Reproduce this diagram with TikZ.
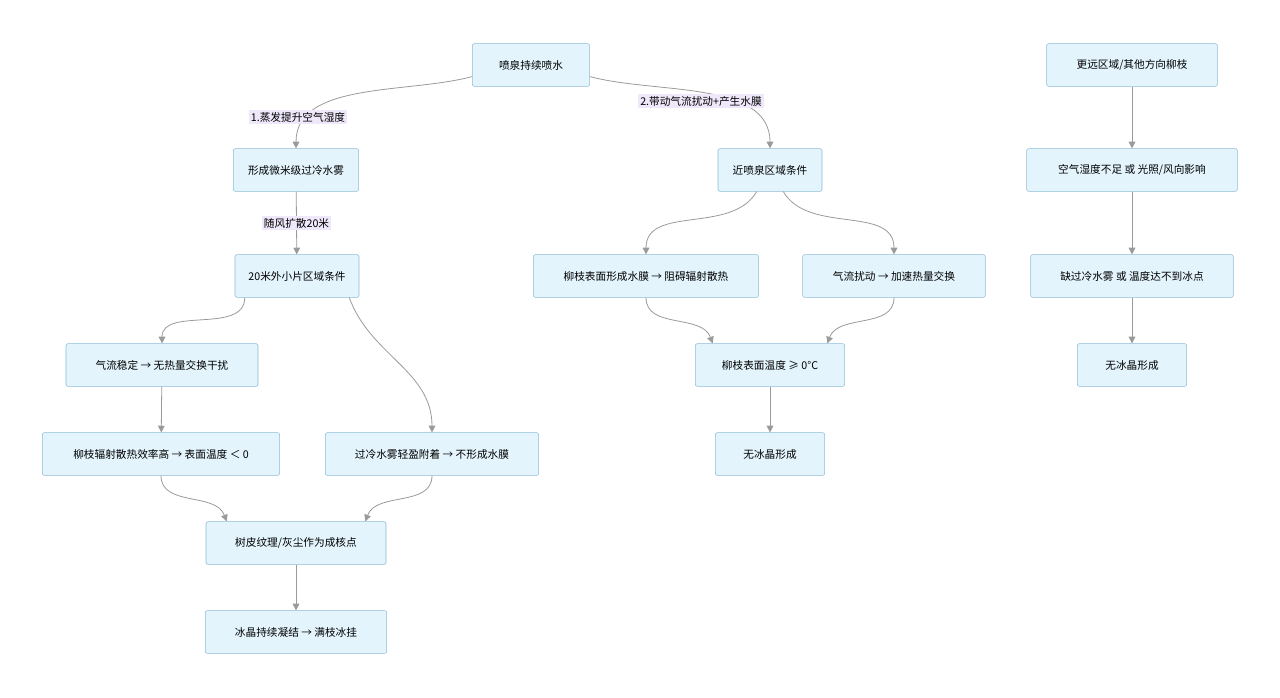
\documentclass[tikz,border=0pt]{standalone}
\usepackage{fontspec}
\setmainfont{Noto Sans CJK SC}
\usetikzlibrary{arrows.meta}
\definecolor{boxfill}{HTML}{E3F4FD}
\definecolor{boxline}{HTML}{8DBAD8}
\definecolor{edgegray}{HTML}{9A9A9A}
\definecolor{lblfill}{HTML}{EFE8FA}
\tikzset{
  box/.style={draw=boxline, fill=boxfill, rounded corners=1.5pt, minimum height=32pt, inner sep=0pt, font=\fontsize{8}{10}\selectfont},
  flow/.style={draw=edgegray, line width=0.6pt, -{Triangle[width=5pt,length=5pt]}},
  lbl/.style={fill=lblfill, inner sep=1.5pt, font=\fontsize{8}{10}\selectfont}
}
\begin{document}
\begin{tikzpicture}[x=0.75pt, y=-0.75pt]
        \useasboundingbox (0,0) rectangle (1280,698);
        % Nodes
        \node[box, minimum width=88pt]  at (531, 65)  (spray)  {喷泉持续喷水};
        \node[box, minimum width=94pt]  at (296, 170) (mist)   {形成微米级过冷水雾};
        \node[box, minimum width=93pt]  at (297, 276) (far)    {20米外小片区域条件};
        \node[box, minimum width=144pt] at (162, 365) (calm)   {气流稳定 → 无热量交换干扰};
        \node[box, minimum width=178pt] at (161, 454) (rad)    {柳枝辐射散热效率高 → 表面温度 ＜ 0};
        \node[box, minimum width=160pt] at (432, 454) (stick)  {过冷水雾轻盈附着 → 不形成水膜};
        \node[box, minimum width=135pt] at (296, 543) (nuc)    {树皮纹理/灰尘作为成核点};
        \node[box, minimum width=136pt] at (296, 632) (ice)    {冰晶持续凝结 → 满枝冰挂};
        \node[box, minimum width=78pt]  at (770, 170) (near)   {近喷泉区域条件};
        \node[box, minimum width=169pt] at (646, 276) (film)   {柳枝表面形成水膜 → 阻碍辐射散热};
        \node[box, minimum width=137pt] at (894, 276) (gust)   {气流扰动 → 加速热量交换};
        \node[box, minimum width=112pt] at (770, 365) (warm)   {柳枝表面温度 ≥ 0°C};
        \node[box, minimum width=82pt]  at (770, 454) (noiceA) {无冰晶形成};
        \node[box, minimum width=128pt] at (1132, 65) (other)  {更远区域/其他方向柳枝};
        \node[box, minimum width=158pt] at (1132, 170) (dry)   {空气湿度不足 或 光照/风向影响};
        \node[box, minimum width=152pt] at (1132, 276) (lack)  {缺过冷水雾 或 温度达不到冰点};
        \node[box, minimum width=82pt]  at (1132, 365) (noiceB) {无冰晶形成};

        % Edges
        \draw[flow] (spray.south west) ++(0,-10) coordinate (sw)
                    (sw) to[out=195, in=90, looseness=0.9] (mist.north);
        \node[lbl] at (298, 117) {1.蒸发提升空气湿度};
        \draw[flow] (spray.south east) ++(0,-10) coordinate (se)
                    (se) to[out=-15, in=90, looseness=0.9] (near.north);
        \node[lbl] at (701, 101) {2.带动气流扰动+产生水膜};
        \draw[flow] (mist) -- node[lbl] {随风扩散20米} (far);

        \draw[flow] (far.south west) ++(10,0) coordinate (fw)
                    (fw) to[out=-90, in=90] (calm.north);
        \draw[flow] (far.south east) ++(-10,0) coordinate (fe)
                    (fe) to[out=-70, in=90] (stick.north);
        \draw[flow] (calm) -- (rad);
        \draw[flow] (rad.south) to[out=-90, in=110] ([xshift=-52]nuc.north);
        \draw[flow] (stick.south) to[out=-90, in=70] ([xshift=52]nuc.north);
        \draw[flow] (nuc) -- (ice);

        \draw[flow] ([xshift=-10]near.south) to[out=-120, in=90] (film.north);
        \draw[flow] ([xshift=10]near.south) to[out=-60, in=90] (gust.north);
        \draw[flow] (film.south) to[out=-90, in=110] ([xshift=-43]warm.north);
        \draw[flow] (gust.south) to[out=-90, in=70] ([xshift=43]warm.north);
        \draw[flow] (warm) -- (noiceA);

        \draw[flow] (other) -- (dry);
        \draw[flow] (dry) -- (lack);
        \draw[flow] (lack) -- (noiceB);
    \end{tikzpicture}
\end{document}
